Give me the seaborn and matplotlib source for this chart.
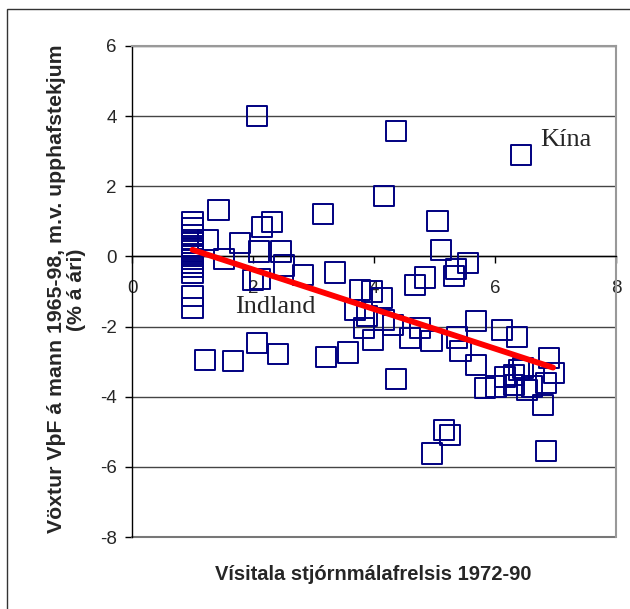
import matplotlib
matplotlib.use("Agg")
import matplotlib.pyplot as plt
import matplotlib.patches as mpatches
from matplotlib.transforms import Bbox, TransformedBbox
import seaborn as sns
import pandas as pd

sns.set_theme(style="white")
plt.rcParams['font.family'] = ['Liberation Sans', 'DejaVu Sans']
plt.rcParams['axes.unicode_minus'] = False

# political freedom index 1972-90 (x) vs per-capita GDP growth 1965-98 (y)
freedom = [1.0, 1.0, 1.0, 1.0, 1.0, 1.0, 1.0, 1.0, 1.0, 1.0, 1.0, 1.0, 1.0, 1.0, 1.0, 1.0,
           1.26, 1.43, 1.52, 1.2, 1.67, 1.78, 2.06, 2.1, 2.15, 2.31, 2.0, 2.12, 2.06, 2.42,
           2.47, 2.51, 2.83, 3.15, 3.36, 3.2, 3.57,
           3.77, 3.97, 4.13, 3.69, 3.88, 4.16, 3.83, 3.99, 4.32, 4.6, 4.76, 4.95, 4.37,
           4.16, 4.36, 4.68, 4.84, 5.05, 5.11, 5.32, 5.36, 5.56, 5.37, 5.43, 5.68, 5.68,
           6.12, 6.37, 6.43, 5.84, 6.01, 6.17, 6.39, 6.47, 6.31, 6.31, 6.53, 6.61, 6.89,
           6.97, 6.85, 6.8, 5.15, 5.26, 4.96, 6.85]
growth = [0.98, 0.8, 0.62, 0.48, 0.38, 0.3, 0.22, 0.15, 0.08, 0.0, -0.08, -0.18, -0.3, -0.46, -1.12, -1.48,
          0.48, 1.33, -0.07, -2.95, -2.97, 0.38, 4.0, 0.14, 0.83, 0.98, -0.67, -0.65, -2.46, -2.79,
          0.14, -0.26, -0.52, 1.21, -0.46, -2.86, -2.74,
          -0.95, -1.0, -1.19, -1.52, -1.71, -1.81, -2.05, -2.38, -1.95, -2.33, -2.05, -2.4, -3.5,
          1.73, 3.57, -0.81, -0.6, 1.02, 0.19, -0.57, -0.36, -0.19, -2.31, -2.69, -1.84, -3.09,
          -2.09, -2.29, 2.88, -3.76, -3.71, -3.43, -3.24, -3.19, -3.38, -3.67, -3.81, -3.71, -2.9,
          -3.33, -3.62, -4.24, -4.95, -5.09, -5.62, -5.54]

trend_x = [1.0, 6.96]
trend_y = [0.19, -3.17]

labels = ["Kína", "Indland"]
label_x = [6.75, 1.70]
label_y = [3.14, -1.62]

df = pd.DataFrame({'freedom': freedom, 'growth': growth})

W, H = 630, 609
fig = plt.figure(figsize=(W / 100, H / 100), dpi=100)
ax = fig.add_axes([132 / W, 1 - 537 / H, (616 - 132) / W, (537 - 46) / H])

sns.scatterplot(data=df, x='freedom', y='growth', ax=ax, marker='s', s=210,
                facecolor='none', edgecolor='#000080', linewidth=1.4, zorder=3)
sns.lineplot(x=trend_x, y=trend_y, ax=ax, color='#ff0000', linewidth=4.2, zorder=4)

for t, lx, ly in zip(labels, label_x, label_y):
    ax.text(lx, ly, t, fontsize=19, family='Liberation Serif', ha='left', va='baseline', zorder=5)

ax.set_xlim(0, 8)
ax.set_ylim(-8, 6)
ax.set_xticks([0, 2, 4, 6, 8])
ax.set_yticks([-8, -6, -4, -2, 0, 2, 4, 6])
ax.yaxis.grid(True, color='#444444', linewidth=1.0)
ax.axhline(-8, color='#777777', linewidth=1.5, clip_on=False)
ax.set_axisbelow(True)

ax.spines['bottom'].set_position(('data', 0))
ax.spines['left'].set_color('black')
ax.spines['bottom'].set_color('black')
ax.spines['left'].set_linewidth(1.0)
ax.spines['bottom'].set_linewidth(1.0)
for s in ['top', 'right']:
    ax.spines[s].set_color('#999999')
    ax.spines[s].set_linewidth(1.5)

ax.tick_params(axis='both', direction='out', length=5, width=1, color='black',
               labelsize=13.5, bottom=True, left=True)
ax.tick_params(axis='y', pad=6)
ax.tick_params(axis='x', pad=12)
ax.set_xlabel('')
ax.set_ylabel('')

fig.text(373 / W, 1 - 580 / H, 'Vísitala stjórnmálafrelsis 1972-90', fontsize=14.5,
         fontweight='bold', ha='center', va='baseline')

ylab = fig.text(62 / W, 1 - 533 / H, 'Vöxtur VþF á mann 1965-98, m.v. upphafstekjum',
                fontsize=15.3, fontweight='bold', rotation=90, rotation_mode='anchor',
                ha='left', va='baseline')
ylab.set_clip_box(TransformedBbox(Bbox([[0, 0], [1, 1 - 46 / H]]), fig.transFigure))
ylab.set_clip_on(True)
fig.text(82 / W, 1 - 290 / H, '(% á ári)', fontsize=15.3, fontweight='bold', rotation=90,
         rotation_mode='anchor', ha='center', va='baseline')

frame = mpatches.Rectangle((7 / W, -0.1), 1.2, 1.1 - 9 / H, transform=fig.transFigure,
                           fill=False, edgecolor='#333333', linewidth=1.0)
fig.patches.append(frame)

fig.savefig('out.png', dpi=100)
